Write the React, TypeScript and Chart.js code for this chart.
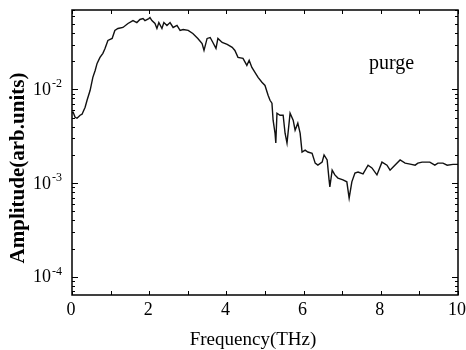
import React, { useEffect, useRef } from "react";
import { Chart, registerables } from "chart.js";

Chart.register(...registerables);

// ---- data ----
const freqTHz = [
  0, 0.03, 0.08, 0.13, 0.21, 0.26, 0.34, 0.39, 0.47, 0.54,
  0.60, 0.65, 0.725, 0.80, 0.855, 0.93, 1.04, 1.11, 1.19, 1.32,
  1.45, 1.58, 1.68, 1.76, 1.84, 1.89, 1.99, 2.02, 2.07, 2.15,
  2.20, 2.25, 2.33, 2.38, 2.46, 2.54, 2.62, 2.72, 2.80, 2.88,
  3.01, 3.13, 3.26, 3.37, 3.42, 3.50, 3.58, 3.65, 3.73, 3.78,
  3.89, 4.02, 4.15, 4.22, 4.30, 4.43, 4.53, 4.59, 4.66, 4.74,
  4.82, 4.92, 5.00, 5.08, 5.13, 5.18, 5.21, 5.26, 5.28, 5.31,
  5.39, 5.47, 5.52, 5.57, 5.65, 5.73, 5.78, 5.85, 5.91, 5.96,
  6.04, 6.11, 6.22, 6.30, 6.37, 6.48, 6.53, 6.61, 6.66, 6.68,
  6.74, 6.81, 6.89, 7.02, 7.12, 7.18, 7.25, 7.33, 7.41, 7.54,
  7.67, 7.77, 7.90, 8.03, 8.16, 8.24, 8.32, 8.50, 8.63, 8.76,
  8.89, 8.96, 9.07, 9.27, 9.40, 9.48, 9.61, 9.72, 9.87, 10.0,
];

const amplitude = [
  0.0056, 0.00569, 0.00503, 0.00491, 0.00529, 0.00542, 0.00644, 0.00764, 0.00976, 0.0134,
  0.0159, 0.0189, 0.0219, 0.0242, 0.0273, 0.0332, 0.0349, 0.0425, 0.0446, 0.0457,
  0.0504, 0.0542, 0.0516, 0.0556, 0.0569, 0.0542, 0.0569, 0.0583, 0.0542, 0.0504,
  0.0446, 0.0516, 0.0446, 0.0516, 0.048, 0.0516, 0.0457, 0.048, 0.0425, 0.0435,
  0.0425, 0.0394, 0.0349, 0.0308, 0.026, 0.0349, 0.0357, 0.0316, 0.0273, 0.0349,
  0.0316, 0.0302, 0.028, 0.026, 0.0219, 0.0214, 0.018, 0.0204, 0.0171, 0.0152,
  0.0134, 0.0119, 0.011, 0.00863, 0.00764, 0.0071, 0.00468, 0.0034, 0.00267, 0.00556,
  0.00529, 0.00529, 0.0034, 0.00267, 0.00556, 0.00468, 0.00366, 0.00435, 0.0034, 0.00214,
  0.00224, 0.00214, 0.00208, 0.00163, 0.00155, 0.00167, 0.00199, 0.00176, 0.00108, 0.000906,
  0.00137, 0.00122, 0.00113, 0.00108, 0.00103, 0.00069, 0.00103, 0.00128, 0.00131, 0.00125,
  0.00155, 0.00145, 0.00122, 0.00167, 0.00155, 0.00137, 0.00148, 0.00176, 0.00163, 0.00159,
  0.00155, 0.00163, 0.00167, 0.00167, 0.00155, 0.00163, 0.00163, 0.00155, 0.00158, 0.00158,
];

const xTickValues = [0, 2, 4, 6, 8, 10];
const xTickLabels = ["0", "2", "4", "6", "8", "10"];
const yTickValues = [1e-4, 1e-3, 1e-2];
const yTickBase = "10";
const yTickExponents = ["-4", "-3", "-2"];
const seriesLabel = "purge";
const xTitle = "Frequency(THz)";
const yTitle = "Amplitude(arb.units)";

const X_MIN = 0;
const X_MAX = 10;
const Y_MIN = 6.38e-5;
const Y_MAX = 0.0702;

const FONT = '"Liberation Serif", "Times New Roman", serif';

const framePlugin = {
  id: "framePlugin",
  afterDraw(chart: any) {
    const { ctx, chartArea: a, scales } = chart;
    const xs = scales.x;
    const ys = scales.y;
    ctx.save();
    ctx.strokeStyle = "#000";
    ctx.fillStyle = "#000";

    // frame
    ctx.lineWidth = 1.5;
    ctx.strokeRect(a.left, a.top, a.right - a.left, a.bottom - a.top);

    // x ticks (every integer, inward, bottom and top)
    ctx.lineWidth = 1;
    ctx.beginPath();
    for (let v = X_MIN; v <= X_MAX; v++) {
      const px = Math.round(xs.getPixelForValue(v)) + 0.5;
      ctx.moveTo(px, a.bottom);
      ctx.lineTo(px, a.bottom - 4);
      ctx.moveTo(px, a.top);
      ctx.lineTo(px, a.top + 4);
    }
    // y ticks (log major/minor, inward, left and right)
    for (let e = -5; e <= -1; e++) {
      for (let m = 1; m <= 9; m++) {
        const v = m * Math.pow(10, e);
        if (v < Y_MIN || v > Y_MAX) continue;
        const py = Math.round(ys.getPixelForValue(v)) + 0.5;
        const len = m === 1 ? 6 : 3;
        ctx.moveTo(a.left, py);
        ctx.lineTo(a.left + len, py);
        ctx.moveTo(a.right, py);
        ctx.lineTo(a.right - len, py);
      }
    }
    ctx.stroke();

    // x tick labels
    ctx.font = `18px ${FONT}`;
    ctx.textAlign = "center";
    ctx.textBaseline = "middle";
    xTickValues.forEach((v, i) => {
      ctx.fillText(xTickLabels[i], xs.getPixelForValue(v) - 1, a.bottom + 15);
    });

    // y tick labels with superscripts
    yTickValues.forEach((v, i) => {
      const py = ys.getPixelForValue(v);
      ctx.font = `18px ${FONT}`;
      ctx.textAlign = "left";
      ctx.textBaseline = "middle";
      const baseX = 33;
      ctx.fillText(yTickBase, baseX, py + 1);
      const w = ctx.measureText(yTickBase).width;
      ctx.font = `12px ${FONT}`;
      ctx.textBaseline = "alphabetic";
      ctx.fillText(yTickExponents[i], baseX + w + 1, py - 2);
    });

    // x title
    ctx.font = `19px ${FONT}`;
    ctx.textAlign = "center";
    ctx.textBaseline = "middle";
    ctx.fillText(xTitle, 253, a.bottom + 45);

    // y title (rotated)
    ctx.save();
    ctx.translate(19, 168);
    ctx.rotate(-Math.PI / 2);
    ctx.font = `bold 21px ${FONT}`;
    ctx.textAlign = "center";
    ctx.textBaseline = "middle";
    ctx.fillText(yTitle, 0, 0);
    ctx.restore();

    // series annotation
    ctx.font = `20px ${FONT}`;
    ctx.textAlign = "left";
    ctx.textBaseline = "alphabetic";
    ctx.fillText(seriesLabel, 369, 69);

    ctx.restore();
  },
};

export default function App() {
  const canvasRef = useRef<HTMLCanvasElement | null>(null);

  useEffect(() => {
    const canvas = canvasRef.current;
    if (!canvas) return;
    const points = freqTHz.map((x, i) => ({ x, y: amplitude[i] }));
    const chart = new Chart(canvas, {
      type: "line",
      data: {
        datasets: [
          {
            label: seriesLabel,
            data: points,
            borderColor: "#111",
            borderWidth: 1.4,
            pointRadius: 0,
            tension: 0,
            fill: false,
          },
        ],
      },
      options: {
        animation: false,
        responsive: false,
        devicePixelRatio: 1,
        layout: { padding: { left: 72, right: 8, top: 10, bottom: 55 } },
        plugins: {
          legend: { display: false },
          tooltip: { enabled: false },
        },
        scales: {
          x: { type: "linear", min: X_MIN, max: X_MAX, display: false },
          y: { type: "logarithmic", min: Y_MIN, max: Y_MAX, display: false },
        },
      },
      plugins: [framePlugin],
    });
    return () => chart.destroy();
  }, []);

  return (
    <div style={{ position: "absolute", left: 0, top: 0, width: 466, height: 350, background: "#fff" }}>
      <canvas ref={canvasRef} width={466} height={350} style={{ display: "block" }} />
    </div>
  );
}
